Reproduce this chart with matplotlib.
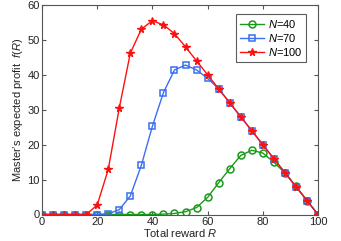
import numpy as np
import matplotlib.pyplot as plt

plt.rcParams['font.family'] = ['Liberation Sans', 'DejaVu Sans']
plt.rcParams['mathtext.fontset'] = 'custom'
plt.rcParams['mathtext.it'] = 'Liberation Sans:italic'
plt.rcParams['mathtext.rm'] = 'Liberation Sans'

# total reward R
reward = list(range(0, 101, 4))

# master's expected profit for each N
profit_n40 = [0, 0, 0, 0, 0, 0, 0, 0, 0, 0, 0, 0.1, 0.3, 0.8, 2.0, 4.9,
              9.1, 13.1, 16.9, 18.4, 17.6, 15.0, 11.9, 8.1, 4.0, 0]
profit_n70 = [0, 0, 0, 0, 0, 0, 0.2, 1.4, 5.3, 14.1, 25.3, 34.9, 41.4, 42.8,
              41.4, 39.0, 36.0, 32.0, 28.0, 24.0, 20.0, 16.0, 12.0, 8.0, 4.0, 0]
profit_n100 = [0, 0, 0, 0, 0, 2.7, 12.9, 30.5, 46.2, 53.1, 55.5, 54.3, 51.8,
               48.0, 44.0, 40.0, 36.0, 32.0, 28.0, 24.0, 20.0, 16.0, 12.0, 8.0, 4.0, 0]

fig = plt.figure(figsize=(3.41, 2.41), dpi=100)
ax = fig.add_axes([42/341, 1 - 214.5/241, 276/341, 209.5/241])

ax.plot(reward, profit_n40, color='#1a9a1a', marker='o', markersize=5,
        markerfacecolor='none', markeredgewidth=1.1, linewidth=1.0, label='$N$=40')
ax.plot(reward, profit_n70, color='#3a6ff0', marker='s', markersize=4.2,
        markerfacecolor='none', markeredgewidth=1.1, linewidth=1.0, label='$N$=70')
ax.plot(reward, profit_n100, color='#ff1010', marker='*', markersize=5.5,
        markeredgewidth=1.0, linewidth=1.0, label='$N$=100')

ax.set_xlim(0, 100)
ax.set_ylim(0, 60)
ax.set_xticks([0, 20, 40, 60, 80, 100])
ax.set_yticks([0, 10, 20, 30, 40, 50, 60])
ax.tick_params(direction='in', top=True, right=True, labelsize=8, length=3,
               color='#555555', labelcolor='#222222', pad=1.5)
for s in ax.spines.values():
    s.set_color('#555555')
    s.set_linewidth(0.8)

ax.set_xlabel('Total reward $R$', fontsize=8, labelpad=0, color='#222222')
ax.set_ylabel("Master’s expected profit  $f(R)$", fontsize=8, labelpad=2, color='#222222')

leg = ax.legend(loc='upper right', bbox_to_anchor=(0.955, 0.955), fontsize=8,
                fancybox=False, edgecolor='#333333', handlelength=2.2,
                borderpad=0.3, labelspacing=0.2, handletextpad=0.3, borderaxespad=0)
leg.get_frame().set_linewidth(0.8)

fig.savefig('out.png', dpi=100)
